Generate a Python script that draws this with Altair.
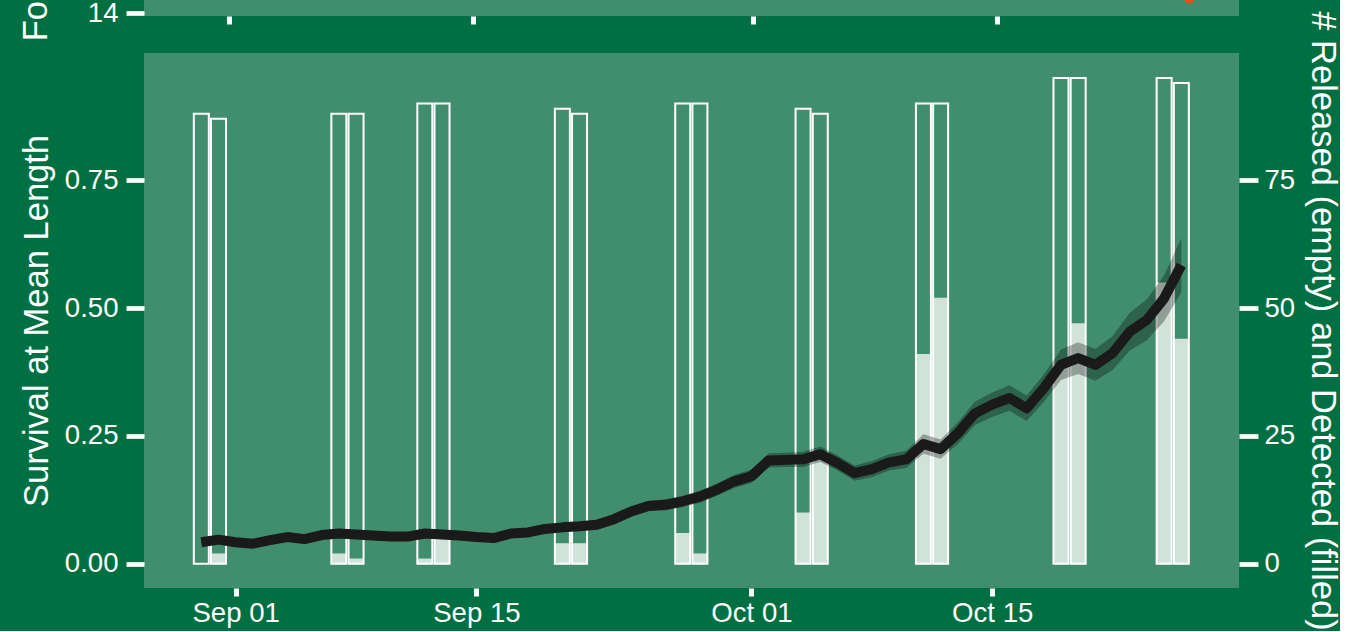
import altair as alt
import pandas as pd

BG = "#006F41"
PANEL = "#418E6F"
FONT = "Liberation Sans"
TXT = 27.6
TTL = 34.5

# Release events: two consecutive release days per event
release_dates = [
    "2023-08-30", "2023-08-31", "2023-09-07", "2023-09-08", "2023-09-12", "2023-09-13",
    "2023-09-20", "2023-09-21", "2023-09-27", "2023-09-28", "2023-10-04", "2023-10-05",
    "2023-10-11", "2023-10-12", "2023-10-19", "2023-10-20", "2023-10-25", "2023-10-26",
]
released = [88, 87, 88, 88, 90, 90, 89, 88, 90, 90, 89, 88, 90, 90, 95, 95, 95, 94]
detected = [0, 2, 2, 1, 1, 5, 4, 4, 6, 2, 10, 21, 41, 52, 39, 47, 55, 44]

# Daily survival estimate at mean length, Aug 30 - Oct 26, with interval bounds
survival = [
    0.042, 0.047,
    0.042, 0.039, 0.046, 0.052, 0.048, 0.056, 0.059, 0.057, 0.055, 0.053,
    0.053, 0.059, 0.057, 0.055, 0.052, 0.050, 0.059, 0.061, 0.068, 0.071,
    0.073, 0.076, 0.087, 0.102, 0.113, 0.115, 0.122, 0.131, 0.145, 0.161,
    0.171, 0.202, 0.203, 0.204, 0.214, 0.197, 0.177, 0.185, 0.198, 0.204,
    0.234, 0.224, 0.255, 0.294, 0.311, 0.324, 0.304, 0.343, 0.389, 0.402,
    0.389, 0.412, 0.454, 0.477, 0.519, 0.584,
]
surv_lo = [
    0.038, 0.043,
    0.038, 0.035, 0.042, 0.048, 0.044, 0.051, 0.054, 0.052, 0.050, 0.048,
    0.048, 0.054, 0.052, 0.050, 0.047, 0.044, 0.053, 0.055, 0.061, 0.064,
    0.065, 0.068, 0.078, 0.092, 0.103, 0.104, 0.111, 0.119, 0.133, 0.148,
    0.158, 0.188, 0.189, 0.189, 0.199, 0.182, 0.162, 0.169, 0.182, 0.187,
    0.215, 0.205, 0.234, 0.271, 0.287, 0.299, 0.279, 0.316, 0.359, 0.371,
    0.358, 0.379, 0.417, 0.437, 0.474, 0.531,
]
surv_hi = [
    0.046, 0.051,
    0.046, 0.043, 0.050, 0.056, 0.052, 0.061, 0.064, 0.062, 0.060, 0.058,
    0.058, 0.064, 0.062, 0.060, 0.057, 0.056, 0.065, 0.067, 0.075, 0.078,
    0.081, 0.084, 0.096, 0.112, 0.123, 0.126, 0.133, 0.143, 0.157, 0.174,
    0.184, 0.216, 0.217, 0.219, 0.229, 0.212, 0.192, 0.201, 0.214, 0.221,
    0.253, 0.243, 0.276, 0.317, 0.335, 0.349, 0.329, 0.370, 0.419, 0.433,
    0.420, 0.445, 0.491, 0.517, 0.564, 0.637,
]

# Fork length panel
fl_dates = ["2023-10-26"]
fork_length = [14.15]

days = pd.date_range("2023-08-30", "2023-10-26", freq="D").strftime("%Y-%m-%d")
surv_df = pd.DataFrame({"date": days, "survival": survival, "lo": surv_lo, "hi": surv_hi})
rel_df = pd.DataFrame({"date": release_dates, "released": released, "detected": detected})
fl_df = pd.DataFrame({"date": fl_dates, "fork_length": fork_length})


def dt(m, d, h=0, mi=0):
    return alt.DateTime(year=2023, month=m, date=d, hours=h, minutes=mi, utc=True)


tick_dates = [dt(9, 1), dt(9, 15), dt(10, 1), dt(10, 15)]

axis_common = dict(
    domain=False, grid=False, tickColor="white", labelColor="white", titleColor="white",
    labelFont=FONT, titleFont=FONT, labelFontSize=TXT, titleFontSize=TTL,
    titleFontWeight="normal", labelOverlap=False, labelFlush=False,
)

# ---- bottom panel: releases, detections and survival ----
x_bottom = alt.X(
    "date:T",
    scale=alt.Scale(type="utc", domain=[dt(8, 26, 16, 0), dt(10, 29, 8, 30)],
                    nice=False, padding=0),
    axis=alt.Axis(values=tick_dates, format="%b %d", tickSize=8, tickWidth=5,
                  labelPadding=3, title=None, **axis_common),
)

count_scale = alt.Scale(domain=[-4.76, 99.88], nice=False, zero=False)
count_axis = alt.Axis(
    orient="right", values=[0, 25, 50, 75], format="d", tickSize=19, tickWidth=4.7,
    labelPadding=6, titlePadding=10, title="# Released (empty) and Detected (filled)",
    **axis_common,
)

bars_fill = alt.Chart(rel_df).mark_bar(size=15, color="#D0E2DA", opacity=1).encode(
    x=x_bottom,
    y=alt.Y("detected:Q", scale=count_scale, axis=count_axis),
    y2=alt.datum(0),
)
bars_outline = alt.Chart(rel_df).mark_bar(
    size=15, fill="white", fillOpacity=0, stroke="white", strokeWidth=2
).encode(
    x=x_bottom,
    y=alt.Y("released:Q", scale=count_scale, axis=count_axis),
    y2=alt.datum(0),
)
bars = alt.layer(bars_fill, bars_outline)

surv_scale = alt.Scale(domain=[-0.0476, 0.9988], nice=False, zero=False)
surv_axis = alt.Axis(
    orient="left", values=[0, 0.25, 0.5, 0.75], format=".2f", tickSize=18, tickWidth=4.7,
    labelPadding=8, titlePadding=10, title="Survival at Mean Length", **axis_common,
)

ribbon = alt.Chart(surv_df).mark_area(color="black", opacity=0.3).encode(
    x=x_bottom,
    y=alt.Y("lo:Q", scale=surv_scale, axis=surv_axis),
    y2="hi:Q",
)
line = alt.Chart(surv_df).mark_line(color="#1A1A1A", strokeWidth=10, strokeJoin="round").encode(
    x=x_bottom,
    y=alt.Y("survival:Q", scale=surv_scale, axis=surv_axis),
)
surv = alt.layer(ribbon, line)

bottom = alt.layer(bars, surv).resolve_scale(y="independent").properties(width=1095, height=535)

# ---- top panel: fork length ----
top = alt.Chart(fl_df).mark_circle(size=110, color="#F04E12", opacity=1).encode(
    x=alt.X(
        "date:T",
        scale=alt.Scale(type="utc", domain=[dt(8, 27, 3, 36), dt(10, 28, 20, 24)],
                        nice=False, padding=0),
        axis=alt.Axis(values=tick_dates, labels=False, tickSize=8, tickWidth=5, title=None,
                      **axis_common),
    ),
    y=alt.Y(
        "fork_length:Q",
        scale=alt.Scale(domain=[13.97, 16.1], nice=False, zero=False),
        axis=alt.Axis(values=[14, 15, 16], format="d", tickSize=18, tickWidth=4.7,
                      labelPadding=8, titlePadding=34, title="Fork Length (cm)", **axis_common),
    ),
).properties(width=1095, height=213)

chart = (
    alt.vconcat(top, bottom, spacing=37, bounds="flush")
    .properties(padding={"left": 18, "top": -222, "right": 0, "bottom": 0}, background=BG)
    .configure_view(fill=PANEL, stroke=None)
)

chart.save("out.html", embed_options={"renderer": "svg", "actions": False})
